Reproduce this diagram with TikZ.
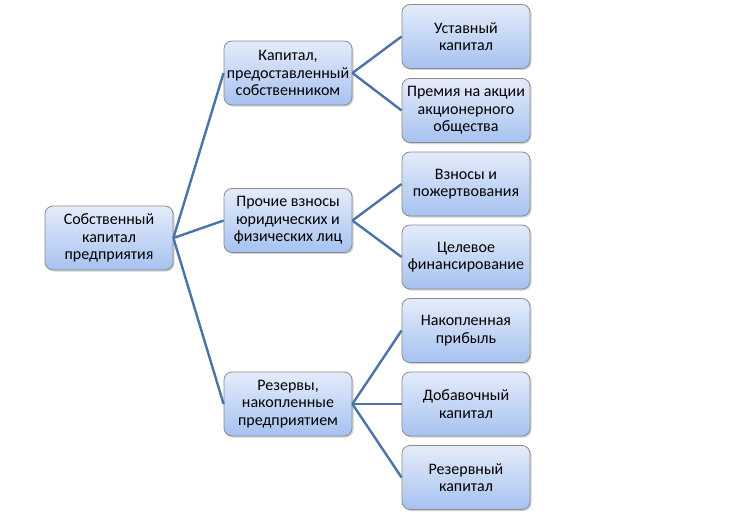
\documentclass[tikz,border=0pt]{standalone}
\usepackage{fontspec}
\setmainfont{Carlito}
\usetikzlibrary{shadows}
\definecolor{boxtop}{HTML}{E4ECFA}
\definecolor{boxbot}{HTML}{A6C2F0}
\definecolor{boxline}{HTML}{8C8C8C}
\definecolor{conn}{HTML}{4A74A8}
\tikzset{
  box/.style={rounded corners=8pt, draw=boxline, line width=0.8pt,
    top color=boxtop, bottom color=boxbot,
    drop shadow={shadow xshift=1.5pt, shadow yshift=-1.5pt, fill=black!35, opacity=0.5},
    minimum width=128pt, minimum height=64pt, inner sep=2pt,
    align=center, font=\fontsize{16}{17.5}\selectfont, text=black},
  conn/.style={draw=conn, line width=2.4pt}
}
\begin{document}
\begin{tikzpicture}[x=1pt,y=-1pt]
\useasboundingbox (0,0) rectangle (755,519);
\node[box] (root) at (109,238) {Собственный\\капитал\\предприятия};
\node[box] (a) at (288,73) {Капитал,\\предоставленный\\собственником};
\node[box] (b) at (288,220.5) {Прочие взносы\\юридических и\\физических лиц};
\node[box] (c) at (288,404) {Резервы,\\накопленные\\предприятием};
\node[box] (a1) at (466,36.5) {Уставный\\капитал};
\node[box] (a2) at (466,110.5) {Премия на акции\\акционерного\\общества};
\node[box] (b1) at (466,184) {Взносы и\\пожертвования};
\node[box] (b2) at (466,257) {Целевое\\финансирование};
\node[box] (c1) at (466,330.5) {Накопленная\\прибыль};
\node[box] (c2) at (466,404) {Добавочный\\капитал};
\node[box] (c3) at (466,477.5) {Резервный\\капитал};
\draw[conn] (root.east) -- (a.west);
\draw[conn] (root.east) -- (b.west);
\draw[conn] (root.east) -- (c.west);
\draw[conn] (a.east) -- (a1.west);
\draw[conn] (a.east) -- (a2.west);
\draw[conn] (b.east) -- (b1.west);
\draw[conn] (b.east) -- (b2.west);
\draw[conn] (c.east) -- (c1.west);
\draw[conn] (c.east) -- (c2.west);
\draw[conn] (c.east) -- (c3.west);
\end{tikzpicture}
\end{document}
